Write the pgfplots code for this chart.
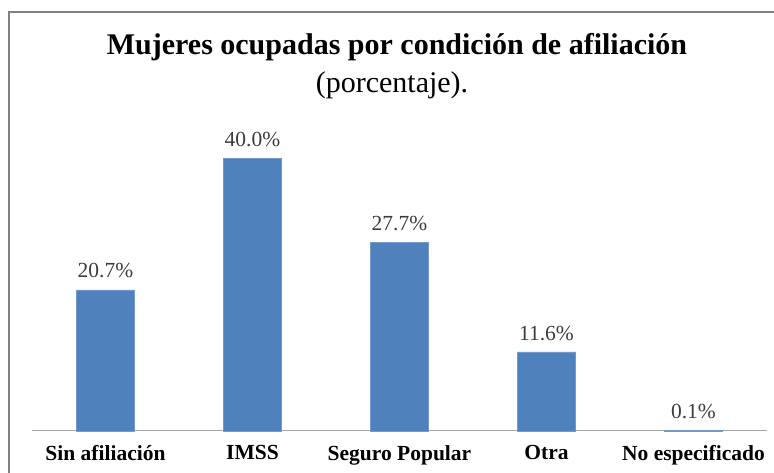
\documentclass[border=0pt]{standalone}
\usepackage{fontspec}
\setmainfont{Liberation Serif}
\usepackage{pgfplots}
\pgfplotsset{compat=1.18}
\definecolor{barblue}{RGB}{79,129,189}
\definecolor{framegray}{RGB}{128,128,128}
\definecolor{labgray}{RGB}{60,60,60}
\begin{document}
\begin{tikzpicture}[x=1pt,y=1pt]
\useasboundingbox (0,0) rectangle (774,473);
% frame (top and left edges visible)
\draw[framegray, line width=1.5pt] (9,-5) -- (9,461) -- (780,461);
\node[font=\fontsize{30}{34}\selectfont\bfseries] at (397,426) {Mujeres ocupadas por condición de afiliación};
\node[font=\fontsize{30}{34}\selectfont] at (392,388) {(porcentaje).};
\begin{axis}[
  at={(32pt,42pt)}, anchor=south west,
  scale only axis,
  width=735pt, height=307pt,
  xmin=-0.5, xmax=4.5,
  ymin=0, ymax=45,
  axis x line*=bottom,
  axis y line=none,
  axis line style={draw=gray!70, line width=1pt},
  xtick=data,
  xticklabels={Sin afiliación,IMSS,Seguro Popular,Otra,No especificado},
  xticklabel style={font=\fontsize{21.5}{24}\selectfont\bfseries, yshift=-11pt},
  major tick length=0pt,
  ytick=\empty,
  bar width=58pt,
  /pgf/number format/assume math mode=true,
  nodes near coords={\pgfmathprintnumber[fixed,fixed zerofill,precision=1]{\pgfplotspointmeta}\%},
  nodes near coords style={font=\fontsize{21.5}{24}\selectfont, text=labgray, anchor=south, yshift=8pt},
  clip=false,
]
\addplot[ybar, fill=barblue, draw=barblue!80!white] coordinates {
  (0,20.7) (1,40.0) (2,27.7) (3,11.6) (4,0.1)
};
\end{axis}
\end{tikzpicture}
\end{document}
